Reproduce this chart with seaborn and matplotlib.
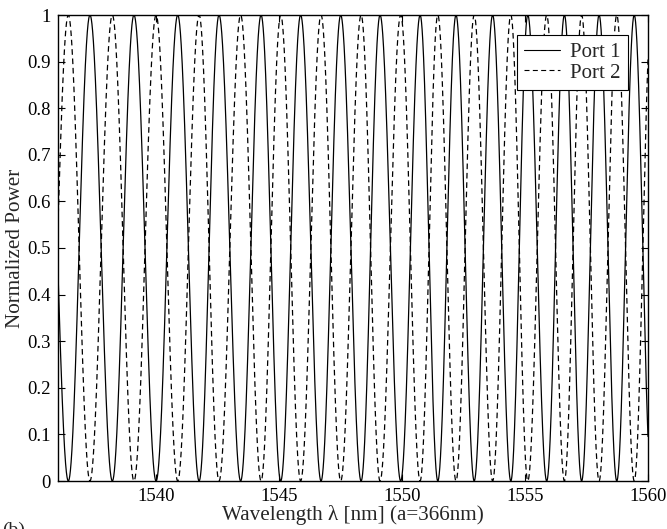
import numpy as np
import pandas as pd
import matplotlib
matplotlib.use("Agg")
import matplotlib.pyplot as plt
from matplotlib.ticker import FuncFormatter
import seaborn as sns

# Wavelengths (nm) where Port 1 transmission reaches zero and full power
port1_zeros = [1536.42, 1538.21, 1539.99, 1541.74, 1543.43, 1545.06, 1546.70,
               1548.33, 1549.94, 1551.45, 1552.93, 1554.42, 1555.88, 1557.30,
               1558.73, 1560.14]
port1_peaks = [1535.52, 1537.30, 1539.09, 1540.87, 1542.55, 1544.26, 1545.87,
               1547.50, 1549.10, 1550.73, 1552.19, 1553.68, 1555.11, 1556.60,
               1558.01, 1559.44]

series_names = ["Port 1", "Port 2"]
x_ticks = [1540, 1545, 1550, 1555, 1560]
y_ticks = [0, 0.1, 0.2, 0.3, 0.4, 0.5, 0.6, 0.7, 0.8, 0.9, 1]
x_range = (1536, 1560)

# Coupler response: each peak/zero pair is a quarter turn of the cos^2 phase
extrema = np.array(sorted(port1_peaks + port1_zeros))
phase = np.arange(len(extrema)) * (np.pi / 2) + (0 if extrema[0] in port1_peaks else np.pi / 2)
wl = np.linspace(x_range[0], x_range[1], 6000)
p1 = np.cos(np.interp(wl, extrema, phase)) ** 2
p2 = 1.0 - p1

df = pd.DataFrame({
    "wavelength": np.concatenate([wl, wl]),
    "power": np.concatenate([p1, p2]),
    "port": np.repeat(series_names, len(wl)),
})

sns.set_theme(style="ticks")
plt.rcParams["font.family"] = ["Liberation Serif", "DejaVu Serif"]
plt.rcParams["mathtext.fontset"] = "stix"

fig = plt.figure(figsize=(6.67, 5.29), dpi=100)
ax = fig.add_axes([58 / 667, 1 - 481 / 529, 590 / 667, 466 / 529])

sns.lineplot(data=df, x="wavelength", y="power", hue="port", style="port",
             palette=["black", "black"], dashes={"Port 1": "", "Port 2": (4.5, 3)},
             linewidth=0.9, ax=ax, legend=False, estimator=None, sort=False)

ax.set_xlim(*x_range)
ax.set_ylim(0, 1)
ax.set_xticks(x_ticks)
ax.set_yticks(y_ticks)
ax.yaxis.set_major_formatter(FuncFormatter(lambda v, p: f"{v:g}"))
ax.tick_params(direction="in", length=5, width=0.8, labelsize=13.5, top=True,
               right=True, colors="black", pad=5)
for sp in ax.spines.values():
    sp.set_visible(True)
    sp.set_linewidth(1.0)
    sp.set_color("black")

ax.set_xlabel("Wavelength \u03bb [nm] (a=366nm)", fontsize=15.2, labelpad=0)
ax.set_ylabel("Normalized Power", fontsize=15.2, labelpad=2)

handles = [plt.Line2D([], [], color="black", lw=0.8),
           plt.Line2D([], [], color="black", lw=0.8, dashes=(4.5, 3))]
leg = ax.legend(handles, series_names, loc="upper right",
                bbox_to_anchor=((628 - 58) / 590, (481 - 35) / 466),
                borderaxespad=0, fontsize=15, frameon=True, fancybox=False,
                handlelength=1.7, handletextpad=0.5, borderpad=0.35,
                labelspacing=0.05)
leg.get_frame().set_edgecolor("black")
leg.get_frame().set_linewidth(0.8)
leg.get_frame().set_alpha(1)

fig.text(2 / 667, -10 / 529, "(b)", fontsize=14, ha="left", va="bottom")

fig.savefig("out.png", dpi=100, facecolor="white")
